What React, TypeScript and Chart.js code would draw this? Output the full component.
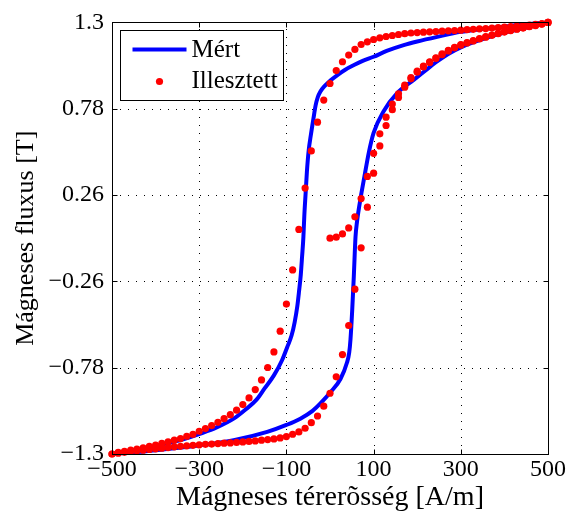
import React, { useEffect, useRef } from "react";
import { Chart, registerables } from "chart.js";

Chart.register(...registerables);

const FONT = "'Liberation Serif', 'Times New Roman', serif";

const xTicks = [-500, -300, -100, 100, 300, 500];
const xTickLabels = ["−500", "−300", "−100", "100", "300", "500"];
const yTicks = [-1.3, -0.78, -0.26, 0.26, 0.78, 1.3];
const yTickLabels = ["−1.3", "−0.78", "−0.26", "0.26", "0.78", "1.3"];

const xTitle = "Mágneses térerõsség [A/m]";
const yTitle = "Mágneses fluxus [T]";
const legendLabels = ["Mért", "Illesztett"];

// Measured loop (Mért) – descending branch
const measDescH = [500, 450, 400, 350, 300, 246, 200, 169, 130, 100, 75, 55, 35, 17, 0, -12, -22, -28, -33, -38, -44, -49, -53, -56, -59, -61, -64, -67, -71, -75, -81, -88, -98, -110, -129, -150, -167, -195, -221, -260, -297, -335, -373, -410, -440, -470, -500];
const measDescB = [1.3, 1.29, 1.275, 1.26, 1.243, 1.213, 1.185, 1.163, 1.128, 1.093, 1.068, 1.043, 1.015, 0.983, 0.948, 0.918, 0.884, 0.85, 0.8, 0.72, 0.62, 0.526, 0.4, 0.267, 0.13, 0.008, -0.11, -0.22, -0.32, -0.41, -0.505, -0.585, -0.655, -0.735, -0.828, -0.905, -0.968, -1.035, -1.087, -1.14, -1.177, -1.21, -1.236, -1.257, -1.272, -1.287, -1.3];

// Measured loop (Mért) – ascending branch
const measAscH = [-500, -440, -373, -297, -221, -144, -100, -68, -40, -22, 1, 24, 39, 44, 47, 51, 54.6, 58.5, 62, 70, 79, 89, 100, 123, 154, 192, 214, 243, 271, 300, 357, 400, 443, 500];
const measAscB = [-1.3, -1.288, -1.27, -1.247, -1.217, -1.167, -1.125, -1.087, -1.04, -0.995, -0.928, -0.848, -0.749, -0.69, -0.609, -0.43, -0.231, 0.008, 0.1, 0.239, 0.372, 0.516, 0.635, 0.765, 0.874, 0.954, 1.0, 1.06, 1.11, 1.15, 1.205, 1.238, 1.265, 1.3];

// Fitted model (Illesztett) field values
const fitH = [-500, -485.7, -471.4, -457.1, -442.9, -428.6, -414.3, -400, -385.7, -371.4, -357.1, -342.9, -328.6, -314.3, -300, -285.7, -271.4, -257.1, -242.9, -228.6, -214.3, -200, -185.7, -171.4, -157.1, -142.9, -128.6, -114.3, -100, -85.7, -71.4, -57.1, -42.9, -28.6, -14.3, 0, 14.3, 28.6, 42.9, 57.1, 71.4, 85.7, 100, 114.3, 128.6, 142.9, 157.1, 171.4, 185.7, 200, 214.3, 228.6, 242.9, 257.1, 271.4, 285.7, 300, 314.3, 328.6, 342.9, 357.1, 371.4, 385.7, 400, 414.3, 428.6, 442.9, 457.1, 471.4, 485.7, 500];

// initial magnetisation curve, for fitH from 0 to 500
const fitInitB = [0.0, 0.006, 0.026, 0.062, 0.129, 0.239, 0.372, 0.511, 0.629, 0.729, 0.808, 0.87, 0.922, 0.968, 1.006, 1.036, 1.063, 1.087, 1.11, 1.131, 1.15, 1.166, 1.179, 1.191, 1.203, 1.214, 1.224, 1.234, 1.244, 1.253, 1.261, 1.268, 1.276, 1.283, 1.291, 1.3];

// descending branch, listed in increasing H order
const fitDescB = [-1.3, -1.29, -1.284, -1.277, -1.27, -1.263, -1.254, -1.247, -1.236, -1.227, -1.217, -1.207, -1.193, -1.181, -1.163, -1.147, -1.129, -1.109, -1.087, -1.063, -1.036, -1.002, -0.962, -0.912, -0.854, -0.779, -0.685, -0.56, -0.397, -0.191, 0.053, 0.302, 0.526, 0.699, 0.832, 0.932, 1.01, 1.063, 1.103, 1.137, 1.167, 1.183, 1.197, 1.207, 1.215, 1.221, 1.227, 1.232, 1.236, 1.239, 1.241, 1.243, 1.245, 1.247, 1.249, 1.251, 1.253, 1.256, 1.258, 1.261, 1.263, 1.266, 1.268, 1.271, 1.274, 1.277, 1.28, 1.284, 1.288, 1.292, 1.3];

// ascending branch
const fitAscB = [-1.3, -1.295, -1.29, -1.285, -1.281, -1.277, -1.273, -1.269, -1.265, -1.261, -1.257, -1.254, -1.251, -1.248, -1.245, -1.242, -1.24, -1.237, -1.235, -1.233, -1.23, -1.227, -1.224, -1.221, -1.217, -1.213, -1.209, -1.203, -1.195, -1.181, -1.167, -1.145, -1.111, -1.071, -1.012, -0.934, -0.835, -0.701, -0.526, -0.307, -0.058, 0.187, 0.392, 0.556, 0.679, 0.774, 0.848, 0.91, 0.96, 1.0, 1.032, 1.059, 1.083, 1.106, 1.128, 1.147, 1.163, 1.176, 1.188, 1.2, 1.211, 1.222, 1.232, 1.242, 1.251, 1.259, 1.266, 1.274, 1.281, 1.29, 1.3];

const BLUE = "#0000ff";
const RED = "#ff0000";

function buildFitPoints() {
  const pts: { x: number; y: number }[] = [];
  const offset = fitH.length - fitInitB.length;
  for (let i = 0; i < fitInitB.length; i++) pts.push({ x: fitH[offset + i], y: fitInitB[i] });
  for (let i = fitH.length - 1; i >= 0; i--) pts.push({ x: fitH[i], y: fitDescB[i] });
  for (let i = 0; i < fitH.length; i++) pts.push({ x: fitH[i], y: fitAscB[i] });
  return pts;
}

const framePlugin = {
  id: "matlabFrame",
  beforeDatasetsDraw(chart: any) {
    const { ctx, chartArea, scales } = chart;
    const { left, right, top, bottom } = chartArea;
    ctx.save();
    ctx.strokeStyle = "#000";
    ctx.lineWidth = 1;
    ctx.setLineDash([1, 7]);
    for (const v of xTicks) {
      const px = Math.round(scales.x.getPixelForValue(v)) + 0.5;
      if (px <= left + 1 || px >= right - 1) continue;
      ctx.beginPath();
      ctx.moveTo(px, bottom);
      ctx.lineTo(px, top);
      ctx.stroke();
    }
    for (const v of yTicks) {
      const py = Math.round(scales.y.getPixelForValue(v)) + 0.5;
      if (py <= top + 1 || py >= bottom - 1) continue;
      ctx.beginPath();
      ctx.moveTo(left, py);
      ctx.lineTo(right, py);
      ctx.stroke();
    }
    ctx.restore();
  },
  afterDatasetsDraw(chart: any) {
    const { ctx, chartArea, scales } = chart;
    const { left, right, top, bottom } = chartArea;
    const L = Math.round(left) + 0.5;
    const R = Math.round(right) + 0.5;
    const T = Math.round(top) + 0.5;
    const B = Math.round(bottom) + 0.5;
    ctx.save();
    ctx.setLineDash([]);
    ctx.strokeStyle = "#000";
    ctx.lineWidth = 1;
    // inward tick marks
    const tl = 5;
    for (const v of xTicks) {
      const px = Math.round(scales.x.getPixelForValue(v)) + 0.5;
      ctx.beginPath();
      ctx.moveTo(px, B);
      ctx.lineTo(px, B - tl);
      ctx.moveTo(px, T);
      ctx.lineTo(px, T + tl);
      ctx.stroke();
    }
    for (const v of yTicks) {
      const py = Math.round(scales.y.getPixelForValue(v)) + 0.5;
      ctx.beginPath();
      ctx.moveTo(L, py);
      ctx.lineTo(L + tl, py);
      ctx.moveTo(R, py);
      ctx.lineTo(R - tl, py);
      ctx.stroke();
    }
    ctx.strokeRect(L, T, R - L, B - T);

    // legend box
    const bx = L + 8;
    const by = T + 8;
    const bw = 163;
    const bh = 70;
    ctx.fillStyle = "#fff";
    ctx.fillRect(bx, by, bw, bh);
    ctx.strokeStyle = "#000";
    ctx.lineWidth = 1;
    ctx.strokeRect(bx, by, bw, bh);

    ctx.strokeStyle = BLUE;
    ctx.lineWidth = 4;
    ctx.beginPath();
    ctx.moveTo(bx + 12, by + 19);
    ctx.lineTo(bx + 66, by + 19);
    ctx.stroke();

    ctx.fillStyle = RED;
    ctx.beginPath();
    ctx.arc(bx + 39, by + 51, 3.6, 0, Math.PI * 2);
    ctx.fill();

    ctx.fillStyle = "#000";
    ctx.font = `25px ${FONT}`;
    ctx.textBaseline = "middle";
    ctx.textAlign = "left";
    ctx.fillText(legendLabels[0], bx + 71, by + 20);
    ctx.fillText(legendLabels[1], bx + 71, by + 51);
    ctx.restore();
  },
};

export default function App() {
  const canvasRef = useRef<HTMLCanvasElement | null>(null);

  useEffect(() => {
    const canvas = canvasRef.current;
    if (!canvas) return;
    const descPts = measDescH.map((h, i) => ({ x: h, y: measDescB[i] }));
    const ascPts = measAscH.map((h, i) => ({ x: h, y: measAscB[i] }));
    const fitPts = buildFitPoints();

    const chart = new Chart(canvas, {
      type: "scatter",
      data: {
        datasets: [
          {
            label: legendLabels[1],
            data: fitPts,
            showLine: false,
            pointRadius: 3.6,
            pointHoverRadius: 3.6,
            pointBackgroundColor: RED,
            pointBorderWidth: 0,
            borderColor: RED,
            backgroundColor: RED,
            clip: false as any,
            order: 0,
          },
          {
            label: legendLabels[0],
            data: descPts,
            showLine: true,
            borderColor: BLUE,
            borderWidth: 4,
            pointRadius: 0,
            cubicInterpolationMode: "monotone",
            clip: false as any,
            order: 1,
          },
          {
            label: legendLabels[0] + " ",
            data: ascPts,
            showLine: true,
            borderColor: BLUE,
            borderWidth: 4,
            pointRadius: 0,
            cubicInterpolationMode: "monotone",
            clip: false as any,
            order: 1,
          },
        ],
      },
      options: {
        responsive: false,
        animation: false,
        devicePixelRatio: 1,
        layout: { padding: { top: 19, right: 20, bottom: 0, left: 0 } },
        plugins: {
          legend: { display: false },
          tooltip: { enabled: false },
          title: { display: false },
        },
        scales: {
          x: {
            type: "linear",
            min: -500,
            max: 500,
            grid: { display: false, drawTicks: false },
            border: { display: false },
            afterBuildTicks: (scale: any) => {
              scale.ticks = xTicks.map((v) => ({ value: v }));
            },
            afterFit: (scale: any) => {
              scale.height = 61;
            },
            ticks: {
              autoSkip: false,
              maxRotation: 0,
              minRotation: 0,
              padding: 1,
              color: "#000",
              font: { family: FONT, size: 24 },
              callback: (_v: any, i: number) => xTickLabels[i],
            },
            title: {
              display: true,
              text: xTitle,
              color: "#000",
              font: { family: FONT, size: 28 },
              padding: { top: 0, bottom: 1 },
            },
          },
          y: {
            type: "linear",
            min: -1.3,
            max: 1.3,
            grid: { display: false, drawTicks: false },
            border: { display: false },
            afterBuildTicks: (scale: any) => {
              scale.ticks = yTicks.map((v) => ({ value: v }));
            },
            afterFit: (scale: any) => {
              scale.width = 112;
            },
            ticks: {
              autoSkip: false,
              padding: 8,
              color: "#000",
              font: { family: FONT, size: 24 },
              callback: (_v: any, i: number) => yTickLabels[i],
            },
            title: {
              display: true,
              text: yTitle,
              color: "#000",
              font: { family: FONT, size: 26 },
              padding: { top: 11, bottom: 0 },
            },
          },
        },
      },
      plugins: [framePlugin],
    } as any);

    return () => {
      chart.destroy();
    };
  }, []);

  return (
    <div style={{ position: "fixed", left: 0, top: 0, width: 568, height: 515, background: "#fff" }}>
      <canvas ref={canvasRef} width={568} height={515} style={{ display: "block" }} />
    </div>
  );
}
